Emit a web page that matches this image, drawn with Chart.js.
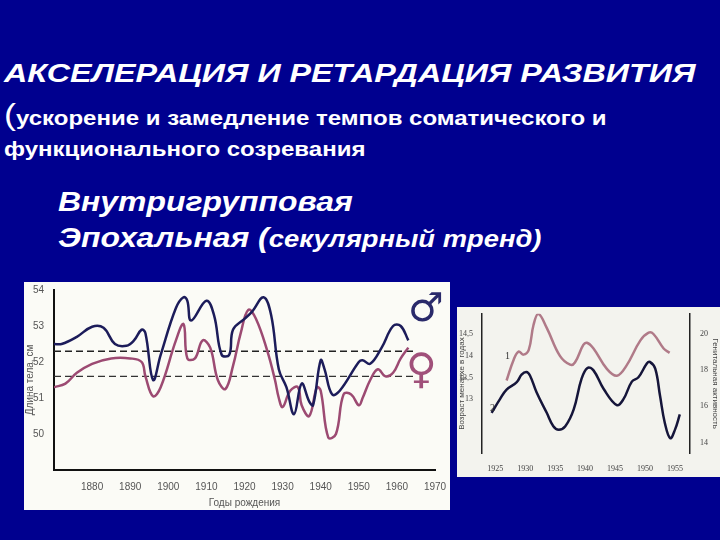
<!DOCTYPE html>
<html>
<head>
<meta charset="utf-8">
<script src="https://cdn.jsdelivr.net/npm/chart.js@4"></script>
<style>
  body { margin: 0; width: 720px; height: 540px; background: #00008f; position: relative; overflow: hidden; font-family: "Liberation Sans", Arial, sans-serif; color: #fff; }
  .t { position: absolute; white-space: nowrap; font-weight: bold; transform-origin: 0 0; }
  .box { position: absolute; }
  .sym { position: absolute; font-family: "DejaVu Sans"; }
  .lbl { position: absolute; font-family: "Liberation Serif"; font-size: 10px; color: #333; }
</style>
</head>
<body>
<div class="t" style="left:4px;top:58px;font-size:26px;font-style:italic;transform:scaleX(1.24);">АКСЕЛЕРАЦИЯ И РЕТАРДАЦИЯ РАЗВИТИЯ</div>
<div class="t" style="left:4px;top:98px;font-size:20px;transform:scaleX(1.2);"><span style="font-size:30px;font-weight:normal;">(</span>ускорение и замедление темпов соматического и</div>
<div class="t" style="left:4px;top:138px;font-size:20px;transform:scaleX(1.2);">функционального созревания</div>
<div class="t" style="left:58px;top:186px;font-size:28px;font-style:italic;transform:scaleX(1.14);">Внутригрупповая</div>
<div class="t" style="left:58px;top:222px;font-size:28px;font-style:italic;transform:scaleX(1.14);">Эпохальная (<span style="font-size:24px;">секулярный тренд)</span></div>

<div class="box" style="left:24px;top:282px;width:426px;height:228px;background:#fbfbf6;"><canvas id="left"></canvas></div>
<div class="box" style="left:457px;top:307px;width:263px;height:170px;background:#f3f3ee;"><canvas id="right"></canvas></div>

<div class="sym" style="left:408px;top:284px;font-size:40px;color:#2a2a6a;">♂</div>
<div class="sym" style="left:406px;top:344px;font-size:42px;color:#a0507a;">♀</div>
<div class="lbl" style="left:505px;top:350px;">1</div>
<div class="lbl" style="left:490px;top:402px;">2</div>

<script>
// Left chart: body length by birth year
const maleYears = [1870, 1872, 1876, 1880, 1883, 1886, 1889, 1891, 1893, 1894, 1896, 1898, 1902, 1904, 1905, 1906, 1910, 1912, 1914, 1916, 1917, 1920, 1922, 1925, 1927, 1929, 1931, 1933, 1935, 1937, 1938, 1940, 1941, 1943, 1945, 1950, 1951, 1953, 1956, 1959, 1961, 1963];
const maleValues = [52.5, 52.5, 52.7, 52.98, 52.95, 52.5, 52.45, 52.6, 52.9, 52.8, 51.5, 52.2, 53.5, 53.8, 53.7, 53.15, 53.7, 53.3, 52.2, 52.2, 52.9, 53.2, 53.4, 53.8, 53.3, 51.8, 51.3, 50.55, 51.4, 50.9, 50.8, 52.05, 51.8, 51.1, 51.2, 52.0, 52.05, 51.95, 52.4, 53.0, 53.0, 52.6];
const femaleYears = [1870, 1873, 1876, 1880, 1885, 1890, 1893, 1894, 1896, 1898, 1902, 1904, 1905, 1907, 1909, 1911, 1913, 1915, 1917, 1919, 1921, 1923, 1926, 1928, 1929, 1930, 1932, 1934, 1935, 1937, 1939, 1940, 1942, 1944, 1946, 1948, 1950, 1951, 1953, 1955, 1957, 1959, 1961, 1963];
const femaleValues = [51.3, 51.4, 51.7, 51.95, 52.1, 52.1, 52.0, 51.6, 51.05, 51.3, 52.6, 53.05, 52.1, 52.1, 52.6, 52.4, 51.5, 51.25, 51.9, 52.8, 53.45, 53.2, 52.3, 51.5, 51.0, 50.75, 51.2, 51.3, 50.8, 50.5, 51.3, 51.2, 49.9, 50.0, 51.1, 51.1, 50.8, 51.0, 51.5, 51.8, 51.6, 51.7, 52.1, 52.4];
const maleMean = 52.3;
const femaleMean = 51.6;
const meanSpan = [1870, 1965];

// Right chart: menarche age (1) and genital activity (2)
const menarcheYears = [1926.9, 1928.1, 1928.9, 1929.7, 1930.6, 1931.4, 1932.2, 1933.6, 1935.8, 1937.5, 1938.3, 1939.7, 1940.3, 1941.4, 1943.6, 1945.3, 1946.9, 1949.2, 1950.6, 1951.4, 1953.1, 1954.1];
const menarcheValues = [13.43, 13.91, 14.09, 14.02, 14.13, 14.7, 14.95, 14.63, 13.99, 13.79, 13.84, 14.24, 14.29, 14.16, 13.7, 13.54, 13.77, 14.34, 14.52, 14.49, 14.16, 14.06];
const activityYears = [1924.4, 1925.8, 1926.9, 1928.6, 1929.4, 1930.2, 1930.8, 1931.9, 1933.6, 1934.7, 1935.6, 1936.7, 1938.1, 1939.4, 1940.4, 1941.4, 1943.1, 1945.3, 1946.4, 1947.8, 1948.9, 1950.3, 1950.8, 1951.7, 1952.5, 1953.3, 1954.2, 1955.0, 1955.8];
const activityValues = [15.64, 16.39, 16.92, 17.33, 17.74, 17.89, 17.7, 16.77, 15.64, 14.9, 14.71, 14.9, 15.83, 17.51, 18.11, 17.98, 16.95, 16.06, 16.39, 17.36, 17.6, 18.36, 18.45, 18.07, 16.58, 15.08, 14.24, 14.71, 15.55];
const rightXTicks = [1925, 1930, 1935, 1940, 1945, 1950, 1955];
const leftTicks = [13, 13.5, 14, 14.5];
const leftTickLabels = ['13', '13,5', '14', '14,5'];
const rightTicks = [14, 16, 18, 20];

function pts(xs, ys) {
  return xs.map((x, i) => ({ x: x, y: ys[i] }));
}

const tickFont = { family: 'Liberation Sans', size: 10 };
const smallFont = { family: 'Liberation Serif', size: 8 };

new Chart(document.getElementById('left'), {
  type: 'line',
  data: {
    datasets: [
      { data: pts(maleYears, maleValues), borderColor: '#1c1c5a', borderWidth: 2.5, tension: 0.4, pointRadius: 0 },
      { data: pts(femaleYears, femaleValues), borderColor: '#9c4a72', borderWidth: 2.5, tension: 0.4, pointRadius: 0 },
      { data: meanSpan.map(x => ({ x: x, y: maleMean })), borderColor: '#222', borderWidth: 1.5, borderDash: [7, 4], pointRadius: 0 },
      { data: meanSpan.map(x => ({ x: x, y: femaleMean })), borderColor: '#333', borderWidth: 1.2, borderDash: [7, 4], pointRadius: 0 }
    ]
  },
  options: {
    responsive: true,
    maintainAspectRatio: false,
    animation: false,
    layout: { padding: { top: 3, right: 15 } },
    plugins: { legend: { display: false }, tooltip: { enabled: false } },
    scales: {
      x: {
        type: 'linear', min: 1870, max: 1970,
        grid: { display: false },
        border: { color: '#111', width: 2 },
        ticks: { stepSize: 10, color: '#555', font: tickFont, callback: v => v === 1870 ? '' : String(v) },
        title: { display: true, text: 'Годы рождения', color: '#555', font: { family: 'Liberation Sans', size: 10 }, padding: 1 }
      },
      y: {
        min: 49, max: 54,
        grid: { display: false },
        border: { color: '#111', width: 2 },
        afterFit: s => { s.width = 30; },
        ticks: { stepSize: 1, color: '#555', font: tickFont, padding: 2, callback: v => v === 49 ? '' : String(v) },
        title: { display: true, text: 'Длина тела, см', color: '#555', font: { family: 'Liberation Sans', size: 10 }, padding: 0 }
      }
    }
  }
});

new Chart(document.getElementById('right'), {
  type: 'line',
  data: {
    datasets: [
      { data: pts(menarcheYears, menarcheValues), yAxisID: 'yl', borderColor: '#b07a88', borderWidth: 2.5, tension: 0.4, pointRadius: 0 },
      { data: pts(activityYears, activityValues), yAxisID: 'yr', borderColor: '#15153a', borderWidth: 2.5, tension: 0.4, pointRadius: 0 }
    ]
  },
  options: {
    responsive: true,
    maintainAspectRatio: false,
    animation: false,
    layout: { padding: { top: 5 } },
    plugins: { legend: { display: false }, tooltip: { enabled: false } },
    scales: {
      x: {
        type: 'linear', min: 1922.8, max: 1957.5,
        afterBuildTicks: s => { s.ticks = rightXTicks.map(v => ({ value: v })); },
        grid: { display: false },
        border: { display: false },
        ticks: { color: '#444', font: smallFont, callback: v => String(v) }
      },
      yl: {
        position: 'left', min: 11.77, max: 14.95,
        afterBuildTicks: s => { s.ticks = leftTicks.map(v => ({ value: v })); },
        afterFit: s => { s.width = 25; },
        grid: { display: false },
        border: { color: '#222', width: 1.5 },
        ticks: { color: '#444', font: smallFont, padding: 1, callback: (v, i) => leftTickLabels[i] },
        title: { display: true, text: 'Возраст менархе в годах', color: '#444', font: { family: 'Liberation Sans', size: 8 }, padding: 0 }
      },
      yr: {
        position: 'right', min: 13.4, max: 21.1,
        afterBuildTicks: s => { s.ticks = rightTicks.map(v => ({ value: v })); },
        afterFit: s => { s.width = 30; },
        grid: { display: false },
        border: { color: '#222', width: 1.5 },
        ticks: { color: '#444', font: smallFont, padding: 2 },
        title: { display: true, text: 'Генитальная активность', color: '#444', font: { family: 'Liberation Sans', size: 8 }, padding: 0 }
      }
    }
  }
});
</script>
</body>
</html>
